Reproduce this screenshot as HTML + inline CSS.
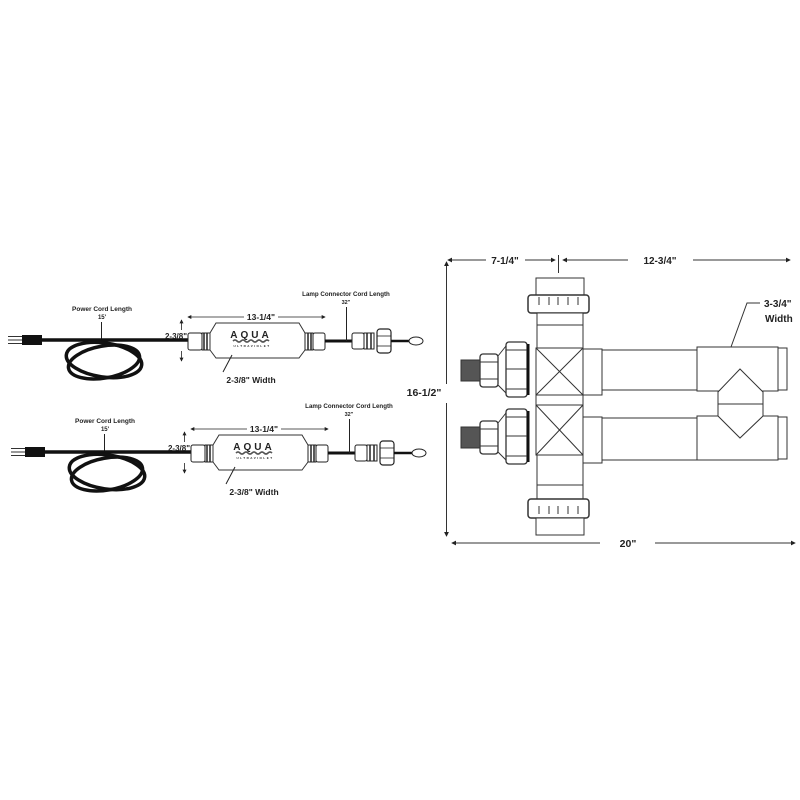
<!DOCTYPE html>
<html><head><meta charset="utf-8">
<style>
html,body{margin:0;padding:0;background:#fff;}
svg{display:block;}
text{font-family:"Liberation Sans",Arial,sans-serif;font-weight:bold;fill:#222;}
</style></head>
<body>
<svg width="800" height="800" viewBox="0 0 800 800" xmlns="http://www.w3.org/2000/svg">
<defs>
<marker id="ar" viewBox="0 0 6 6" refX="5" refY="3" markerWidth="5" markerHeight="5" orient="auto-start-reverse"><path d="M0,0 L6,3 L0,6 z" fill="#222"/></marker>
<g id="ps">
  <text x="102" y="311" font-size="6.5" text-anchor="middle">Power Cord Length</text>
  <text x="102" y="319" font-size="6" text-anchor="middle">15'</text>
  <line x1="101.5" y1="322" x2="101.5" y2="340" stroke="#222" stroke-width="1"/>
  <line x1="8" y1="336.5" x2="22" y2="336.5" stroke="#333" stroke-width="1"/>
  <line x1="8" y1="340" x2="22" y2="340" stroke="#333" stroke-width="1"/>
  <line x1="8" y1="343.5" x2="22" y2="343.5" stroke="#333" stroke-width="1"/>
  <rect x="22" y="335" width="20" height="10" fill="#111"/>
  <line x1="42" y1="340" x2="190" y2="340" stroke="#111" stroke-width="3.5"/>
  <ellipse cx="104" cy="360" rx="38" ry="17" fill="none" stroke="#111" stroke-width="3.5" transform="rotate(8 104 360)"/>
  <ellipse cx="104" cy="362" rx="36" ry="16" fill="none" stroke="#111" stroke-width="3.5" transform="rotate(-10 104 362)"/>
  <line x1="181.5" y1="330" x2="181.5" y2="320" stroke="#222" stroke-width="0.8" marker-end="url(#ar)"/>
  <line x1="181.5" y1="351" x2="181.5" y2="361" stroke="#222" stroke-width="0.8" marker-end="url(#ar)"/>
  <line x1="188" y1="317" x2="244" y2="317" stroke="#222" stroke-width="0.8" marker-start="url(#ar)"/>
  <line x1="278" y1="317" x2="325" y2="317" stroke="#222" stroke-width="0.8" marker-end="url(#ar)"/>
  <text x="261" y="320" font-size="8.5" text-anchor="middle">13-1/4"</text>
  <rect x="188" y="333" width="14" height="17" rx="2" fill="#fff" stroke="#222" stroke-width="1"/>
  <rect x="202" y="333" width="8" height="17" fill="#fff" stroke="#222" stroke-width="1"/>
  <line x1="204" y1="333" x2="204" y2="350" stroke="#222" stroke-width="1.5"/>
  <line x1="207" y1="333" x2="207" y2="350" stroke="#222" stroke-width="1.5"/>
  <text x="187" y="339" font-size="8" text-anchor="end">2-3/8"</text>
  <path d="M210,333 L216,323 L299,323 L305,333 L305,350 L299,358 L216,358 L210,350 Z" fill="#fff" stroke="#333" stroke-width="1"/>
  <text x="251" y="338" font-size="10" font-family="Liberation Serif,serif" font-weight="normal" text-anchor="middle" letter-spacing="3">AQUA</text>
  <path d="M233,341 q2,-2 4,0 t4,0 t4,0 t4,0 t4,0 t4,0 t4,0 t4,0 t4,0" fill="none" stroke="#555" stroke-width="1.6"/>
  <text x="252" y="347" font-size="3" text-anchor="middle" letter-spacing="1.5">ULTRAVIOLET</text>
  <rect x="305" y="333" width="8" height="17" fill="#fff" stroke="#222" stroke-width="1"/>
  <line x1="308" y1="333" x2="308" y2="350" stroke="#222" stroke-width="1.5"/>
  <line x1="311" y1="333" x2="311" y2="350" stroke="#222" stroke-width="1.5"/>
  <rect x="313" y="333" width="12" height="17" rx="2" fill="#fff" stroke="#222" stroke-width="1"/>
  <line x1="325" y1="341" x2="352" y2="341" stroke="#111" stroke-width="3"/>
  <text x="346" y="296" font-size="6.2" text-anchor="middle">Lamp Connector Cord Length</text>
  <text x="346" y="304" font-size="5.5" text-anchor="middle">32"</text>
  <line x1="346.5" y1="307" x2="346.5" y2="341" stroke="#222" stroke-width="1"/>
  <rect x="352" y="333" width="12" height="16" rx="2" fill="#fff" stroke="#222" stroke-width="1"/>
  <rect x="364" y="333" width="10" height="16" fill="#fff" stroke="#222" stroke-width="1"/>
  <line x1="367" y1="333" x2="367" y2="349" stroke="#222" stroke-width="1.5"/>
  <line x1="371" y1="333" x2="371" y2="349" stroke="#222" stroke-width="1.5"/>
  <rect x="377" y="329" width="14" height="24" rx="3" fill="#fff" stroke="#222" stroke-width="1.2"/>
  <line x1="377" y1="336" x2="391" y2="336" stroke="#222" stroke-width="0.8"/>
  <line x1="377" y1="346" x2="391" y2="346" stroke="#222" stroke-width="0.8"/>
  <line x1="391" y1="341" x2="409" y2="341" stroke="#111" stroke-width="2.5"/>
  <ellipse cx="416" cy="341" rx="7" ry="4" fill="#fff" stroke="#222" stroke-width="1"/>
  <line x1="232" y1="355" x2="223" y2="372" stroke="#222" stroke-width="1"/>
  <text x="251" y="383" font-size="8.5" text-anchor="middle">2-3/8" Width</text>
</g>
</defs>
<rect width="800" height="800" fill="#fff"/>
<use href="#ps"/>
<use href="#ps" transform="translate(3,112)"/>

<g stroke="#333" stroke-width="1" fill="#fff">
  <line x1="448" y1="260" x2="486" y2="260" marker-start="url(#ar)"/>
  <line x1="525" y1="260" x2="555" y2="260" marker-end="url(#ar)"/>
  <line x1="558.5" y1="255" x2="558.5" y2="273"/>
  <line x1="563" y1="260" x2="628" y2="260" marker-start="url(#ar)"/>
  <line x1="693" y1="260" x2="790" y2="260" marker-end="url(#ar)"/>
  <line x1="446.5" y1="262" x2="446.5" y2="384" marker-start="url(#ar)"/>
  <line x1="446.5" y1="403" x2="446.5" y2="536" marker-end="url(#ar)"/>
  <line x1="452" y1="543" x2="600" y2="543" marker-start="url(#ar)"/>
  <line x1="655" y1="543" x2="795" y2="543" marker-end="url(#ar)"/>
  <polyline points="731,347 747,303 760,303" fill="none"/>
  <rect x="536" y="278" width="48" height="18"/>
  <rect x="528" y="295" width="61" height="18" rx="3" stroke-width="1.5"/>
  <g stroke-width="1"><line x1="539" y1="297" x2="539" y2="305"/><line x1="549" y1="297" x2="549" y2="305"/><line x1="558" y1="297" x2="558" y2="305"/><line x1="568" y1="297" x2="568" y2="305"/><line x1="578" y1="297" x2="578" y2="305"/></g>
  <rect x="537" y="313" width="46" height="35"/>
  <rect x="537" y="325" width="46" height="23"/>
  <rect x="536" y="348" width="47" height="47"/>
  <line x1="536" y1="348" x2="583" y2="395"/><line x1="583" y1="348" x2="536" y2="395"/>
  <rect x="583" y="349" width="19" height="46"/>
  <rect x="602" y="350" width="95" height="40"/>
  <rect x="697" y="347" width="81" height="44"/>
  <rect x="778" y="348" width="9" height="42"/>
  <rect x="536" y="395" width="47" height="10"/>
  <rect x="536" y="405" width="47" height="50"/>
  <line x1="536" y1="405" x2="583" y2="455"/><line x1="583" y1="405" x2="536" y2="455"/>
  <rect x="583" y="417" width="19" height="46"/>
  <rect x="602" y="418" width="95" height="42"/>
  <rect x="697" y="416" width="81" height="44"/>
  <rect x="778" y="417" width="9" height="42"/>
  <path d="M740,369 L718,392 L718,416 L740,438 L763,416 L763,392 Z" fill="#fff"/>
  <line x1="718" y1="404" x2="763" y2="404"/>
  <rect x="537" y="455" width="46" height="30"/>
  <rect x="537" y="485" width="46" height="15"/>
  <rect x="528" y="499" width="61" height="19" rx="3" stroke-width="1.5"/>
  <g><line x1="539" y1="506" x2="539" y2="514"/><line x1="549" y1="506" x2="549" y2="514"/><line x1="558" y1="506" x2="558" y2="514"/><line x1="568" y1="506" x2="568" y2="514"/><line x1="578" y1="506" x2="578" y2="514"/></g>
  <rect x="536" y="518" width="48" height="17"/>
  <g>
    <path d="M498,356 L506,346 L506,393 L498,385 Z"/>
    <rect x="506" y="342" width="21" height="55" rx="3" stroke-width="1.3"/>
    <line x1="506" y1="350" x2="527" y2="350"/><line x1="506" y1="369" x2="527" y2="369"/><line x1="506" y1="389" x2="527" y2="389"/>
    <rect x="527" y="344" width="2.5" height="51" fill="#111" stroke="none"/>
    <rect x="480" y="354" width="18" height="33" rx="3" stroke-width="1.3"/>
    <line x1="480" y1="362" x2="498" y2="362"/><line x1="480" y1="379" x2="498" y2="379"/>
    <rect x="461" y="360" width="19" height="21" fill="#555"/>
  </g>
  <g transform="translate(0,67)">
    <path d="M498,356 L506,346 L506,393 L498,385 Z"/>
    <rect x="506" y="342" width="21" height="55" rx="3" stroke-width="1.3"/>
    <line x1="506" y1="350" x2="527" y2="350"/><line x1="506" y1="369" x2="527" y2="369"/><line x1="506" y1="389" x2="527" y2="389"/>
    <rect x="527" y="344" width="2.5" height="51" fill="#111" stroke="none"/>
    <rect x="480" y="354" width="18" height="33" rx="3" stroke-width="1.3"/>
    <line x1="480" y1="362" x2="498" y2="362"/><line x1="480" y1="379" x2="498" y2="379"/>
    <rect x="461" y="360" width="19" height="21" fill="#555"/>
  </g>
</g>
<text x="505" y="264" font-size="10" text-anchor="middle">7-1/4"</text>
<text x="660" y="264" font-size="10" text-anchor="middle">12-3/4"</text>
<text x="424" y="396" font-size="10.5" text-anchor="middle">16-1/2"</text>
<text x="628" y="547" font-size="10.5" text-anchor="middle">20"</text>
<text x="764" y="307" font-size="10">3-3/4"</text>
<text x="765" y="322" font-size="10">Width</text>
</svg>
</body></html>
